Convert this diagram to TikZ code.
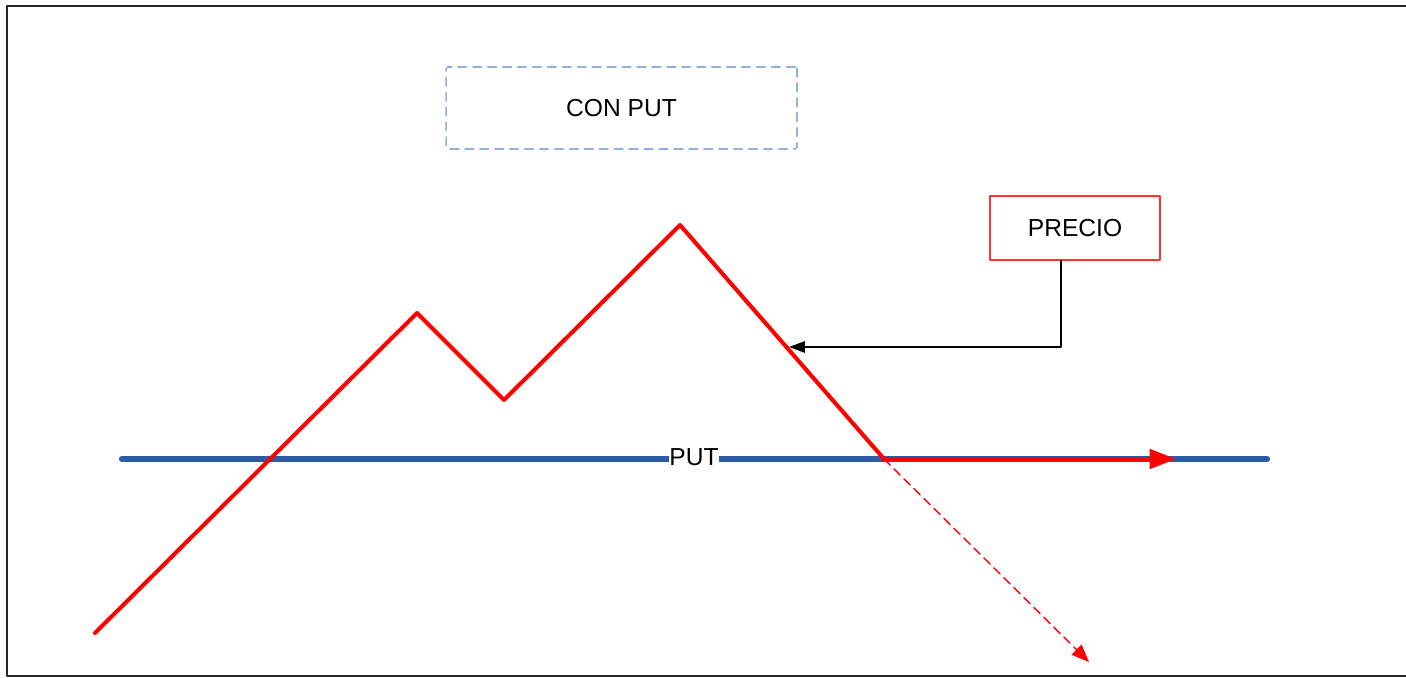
\documentclass[tikz,border=0pt]{standalone}
\usepackage{fontspec}
\setmainfont{Liberation Sans}
\usetikzlibrary{arrows.meta,positioning}
\definecolor{putblue}{HTML}{2B5CA3}
\definecolor{boxblue}{HTML}{8CB2E6}
\definecolor{precred}{HTML}{FF0000}
\tikzset{
  labelbox/.style={draw,minimum width=3.4cm,minimum height=1.28cm,font=\fontsize{14}{16}\selectfont},
  priceline/.style={precred,line width=2.3pt,line cap=round,line join=round}
}
\begin{document}
\begin{tikzpicture}[x=0.02cm,y=-0.02cm,line cap=round,line join=round]
  \useasboundingbox (0,0) rectangle (1406,678);
  % marco
  \draw[line width=1.3pt,black!85] (1410,6)--(7,6)--(7,676)--(1410,676);
  \node[labelbox,draw=boxblue,dashed,dash pattern=on 5pt off 3.5pt,line width=0.9pt,minimum width=7.02cm,minimum height=1.64cm,rounded corners=1pt] (conput) at (621.5,108) {CON PUT};
  \node[labelbox,draw=precred!80,line width=0.7pt] (precio) at (1075,228) {PRECIO};
  % nivel del put
  \coordinate (p0) at (122,459);
  \coordinate (p1) at (1267,459);
  \draw[putblue,line width=3.5pt] (p0)--(p1);
  \node[fill=white,inner sep=0.5pt,font=\fontsize{14}{16}\selectfont] (put) at (694,457) {PUT};
  % precio
  \coordinate (A) at (95,633);
  \coordinate (B) at (417,313);
  \coordinate (C) at (504,400);
  \coordinate (D) at (680,225);
  \coordinate (E) at (884,459);
  \coordinate (F) at (1176,459);
  \coordinate (G) at (1089,662);
  \draw[priceline] (A)--(B)--(C)--(D)--(E);
  \draw[priceline,-{Triangle[length=15pt,width=11pt]}] (E)--(F);
  \draw[precred,line width=0.8pt,dashed,dash pattern=on 5pt off 3pt,-{Triangle[length=10pt,width=8pt]}] (E)--(G);
  % flecha de la etiqueta
  \coordinate (bend) at (1061,347);
  \coordinate (hit) at (789,347);
  \draw[black,line width=0.7pt,-{Triangle[length=9pt,width=6.5pt]}] (bend |- precio.south)--(bend)--(hit);
\end{tikzpicture}
\end{document}
